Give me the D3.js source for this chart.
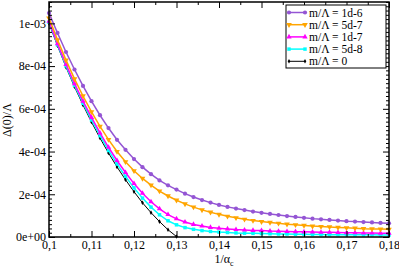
<!DOCTYPE html>
<html>
<head>
<meta charset="utf-8">
<script src="https://d3js.org/d3.v7.min.js"></script>
<style>
  body { margin: 0; background: #fff; }
  svg text { font-family: "Times New Roman", "Liberation Serif", "DejaVu Serif", serif !important; }
</style>
</head>
<body>
<svg width="399" height="269"></svg>
<script>
    // x values: 1/alpha_c
    var xs = [0.100, 0.102, 0.104, 0.106, 0.108, 0.110, 0.112, 0.114, 0.116, 0.118,
              0.120, 0.122, 0.124, 0.126, 0.128, 0.130, 0.132, 0.134, 0.136, 0.138,
              0.140, 0.142, 0.144, 0.146, 0.148, 0.150, 0.152, 0.154, 0.156, 0.158,
              0.160, 0.162, 0.164, 0.166, 0.168, 0.170, 0.172, 0.174, 0.176, 0.178, 0.180];

    // Delta(0)/Lambda, in units of 1e-3
    var m1d6 = [1.048, 0.955, 0.866, 0.784, 0.707, 0.636, 0.570, 0.510, 0.455, 0.408,
                0.365, 0.327, 0.294, 0.265, 0.242, 0.222, 0.203, 0.187, 0.173, 0.161,
                0.150, 0.141, 0.133, 0.126, 0.119, 0.113, 0.108, 0.103, 0.098, 0.094,
                0.090, 0.086, 0.083, 0.080, 0.077, 0.074, 0.072, 0.070, 0.068, 0.066, 0.064];
    var m5d7 = [1.025, 0.923, 0.828, 0.740, 0.660, 0.586, 0.518, 0.456, 0.400, 0.352,
                0.310, 0.274, 0.243, 0.215, 0.192, 0.172, 0.155, 0.140, 0.127, 0.116,
                0.106, 0.097, 0.090, 0.083, 0.077, 0.072, 0.068, 0.064, 0.060, 0.057,
                0.054, 0.051, 0.049, 0.047, 0.045, 0.043, 0.041, 0.039, 0.038, 0.037, 0.036];
    var m1d7 = [1.010, 0.905, 0.808, 0.718, 0.636, 0.560, 0.487, 0.420, 0.358, 0.302,
                0.250, 0.205, 0.165, 0.132, 0.105, 0.085, 0.070, 0.059, 0.051, 0.045,
                0.041, 0.038, 0.035, 0.033, 0.031, 0.030, 0.028, 0.027, 0.026, 0.025,
                0.024, 0.023, 0.022, 0.022, 0.021, 0.020, 0.020, 0.019, 0.019, 0.018, 0.018];
    var m5d8 = [1.005, 0.900, 0.801, 0.710, 0.626, 0.548, 0.474, 0.405, 0.342, 0.284,
                0.230, 0.182, 0.140, 0.104, 0.076, 0.057, 0.044, 0.036, 0.030, 0.026,
                0.023, 0.021, 0.019, 0.018, 0.017, 0.016, 0.015, 0.014, 0.014, 0.013,
                0.013, 0.012, 0.012, 0.011, 0.011, 0.011, 0.010, 0.010, 0.010, 0.009, 0.009];
    var m0   = [1.000, 0.895, 0.795, 0.703, 0.618, 0.538, 0.463, 0.393, 0.328, 0.268,
                0.212, 0.160, 0.114, 0.072, 0.034, 0.002];

    var labels = ["m/\u039B = 1d-6", "m/\u039B = 5d-7", "m/\u039B = 1d-7", "m/\u039B = 5d-8", "m/\u039B = 0"];
    var xTicks = [0.10, 0.11, 0.12, 0.13, 0.14, 0.15, 0.16, 0.17, 0.18];
    var xTickLabels = ["0,1", "0,11", "0,12", "0,13", "0,14", "0,15", "0,16", "0,17", "0,18"];
    var yTicks = [0, 2e-4, 4e-4, 6e-4, 8e-4, 1e-3];
    var yTickLabels = ["0e+00", "2e-04", "4e-04", "6e-04", "8e-04", "1e-03"];

    var serif = "'Times New Roman', 'Liberation Serif', 'DejaVu Serif', serif";

    var series = [
        {name: labels[0], vals: m1d6, color: "#9455d4", sym: d3.symbolCircle, size: 14, lw: 1.5},
        {name: labels[1], vals: m5d7, color: "#ffa500", sym: d3.symbolTriangle, rot: 180, size: 14, lw: 1.5},
        {name: labels[2], vals: m1d7, color: "#ff00ff", sym: d3.symbolTriangle, size: 12, lw: 1.5},
        {name: labels[3], vals: m5d8, color: "#00ffff", sym: d3.symbolSquare, size: 12, lw: 1.5},
        {name: labels[4], vals: m0, color: "#000000", sym: d3.symbolDiamond, size: 6, lw: 1}
    ];

    var svg = d3.select("svg");
    var pLeft = 49, pRight = 389, pTop = 2, pBottom = 237;

    var x = d3.scaleLinear().domain([0.1, 0.18]).range([pLeft, pRight]);
    var y = d3.scaleLinear().domain([0, 1.1e-3]).range([pBottom, pTop]);

    // series lines and markers
    var line = d3.line()
        .x(function (d) { return x(d[0]); })
        .y(function (d) { return y(d[1] * 1e-3); });

    series.slice().reverse().forEach(function (s) {
        var pts = s.vals.map(function (v, i) { return [xs[i], v]; });
        svg.append("path")
            .attr("d", line(pts))
            .attr("fill", "none")
            .attr("stroke", s.color)
            .attr("stroke-width", s.lw);
        var sym = d3.symbol().type(s.sym).size(s.size);
        svg.append("g").selectAll("path")
            .data(pts)
            .enter()
            .append("path")
            .attr("d", sym)
            .attr("transform", function (d) {
                return "translate(" + x(d[0]) + "," + y(d[1] * 1e-3) + ")" + (s.rot ? " rotate(" + s.rot + ")" : "");
            })
            .attr("fill", s.color);
    });

    // axes: ticks inside on all four sides
    var xMinor = d3.range(0.105, 0.18, 0.01);
    var yMinor = d3.range(0, 1.1e-3 + 1e-9, 2e-5).filter(function (v) {
        return Math.abs(v / 2e-4 - Math.round(v / 2e-4)) > 1e-6;
    });

    var axB = svg.append("g").attr("transform", "translate(0," + pBottom + ")")
        .call(d3.axisBottom(x).tickValues(xTicks).tickSize(-6).tickPadding(3)
            .tickFormat(function (d, i) { return xTickLabels[i]; }));
    svg.append("g").attr("transform", "translate(0," + pBottom + ")")
        .call(d3.axisBottom(x).tickValues(xMinor).tickSize(-3).tickFormat(""));
    svg.append("g").attr("transform", "translate(0," + pTop + ")")
        .call(d3.axisTop(x).tickValues(xTicks).tickSize(-6).tickFormat(""));
    svg.append("g").attr("transform", "translate(0," + pTop + ")")
        .call(d3.axisTop(x).tickValues(xMinor).tickSize(-3).tickFormat(""));

    var axL = svg.append("g").attr("transform", "translate(" + pLeft + ",0)")
        .call(d3.axisLeft(y).tickValues(yTicks).tickSize(-6).tickPadding(3)
            .tickFormat(function (d, i) { return yTickLabels[i]; }));
    svg.append("g").attr("transform", "translate(" + pLeft + ",0)")
        .call(d3.axisLeft(y).tickValues(yMinor).tickSize(-3).tickFormat(""));
    svg.append("g").attr("transform", "translate(" + pRight + ",0)")
        .call(d3.axisRight(y).tickValues(yTicks).tickSize(-6).tickFormat(""));
    svg.append("g").attr("transform", "translate(" + pRight + ",0)")
        .call(d3.axisRight(y).tickValues(yMinor).tickSize(-3).tickFormat(""));

    svg.selectAll(".domain").remove();
    svg.selectAll("g").attr("font-family", serif);
    svg.append("rect")
        .attr("x", pLeft).attr("y", pTop)
        .attr("width", pRight - pLeft).attr("height", pBottom - pTop)
        .attr("fill", "none").attr("stroke", "#000").attr("stroke-width", 1.5);

    svg.selectAll(".tick line").attr("stroke", "#000");
    axB.selectAll("text").attr("font-size", 12).attr("font-family", serif).attr("fill", "#000");
    axL.selectAll("text").attr("font-size", 12).attr("font-family", serif).attr("fill", "#000");

    // axis titles
    var xt = svg.append("text")
        .attr("x", 224).attr("y", 263)
        .attr("text-anchor", "middle")
        .attr("font-family", serif)
        .attr("font-size", 12);
    xt.append("tspan").text("1/\u03B1");
    xt.append("tspan").attr("font-size", 8).attr("dy", 3).text("c");

    svg.append("text")
        .attr("transform", "translate(11,120) rotate(-90)")
        .attr("text-anchor", "middle")
        .attr("font-family", serif)
        .attr("font-size", 12)
        .text("\u0394(0)/\u039B");

    // legend
    var lg = svg.append("g").attr("font-family", serif);
    lg.append("rect")
        .attr("x", 286).attr("y", 5).attr("width", 100).attr("height", 63)
        .attr("fill", "#fff").attr("stroke", "#000").attr("stroke-width", 1);
    series.forEach(function (s, i) {
        var yy = 12.5 + i * 12.2;
        lg.append("line")
            .attr("x1", 289).attr("x2", 305).attr("y1", yy).attr("y2", yy)
            .attr("stroke", s.color).attr("stroke-width", s.lw);
        [289, 305].forEach(function (xx) {
            lg.append("path")
                .attr("d", d3.symbol().type(s.sym).size(s.size))
                .attr("transform", "translate(" + xx + "," + yy + ")" + (s.rot ? " rotate(" + s.rot + ")" : ""))
                .attr("fill", s.color);
        });
        lg.append("text")
            .attr("x", 309).attr("y", yy + 4)
            .attr("font-size", 11.5)
            .text(s.name);
    });
</script>
</body>
</html>
